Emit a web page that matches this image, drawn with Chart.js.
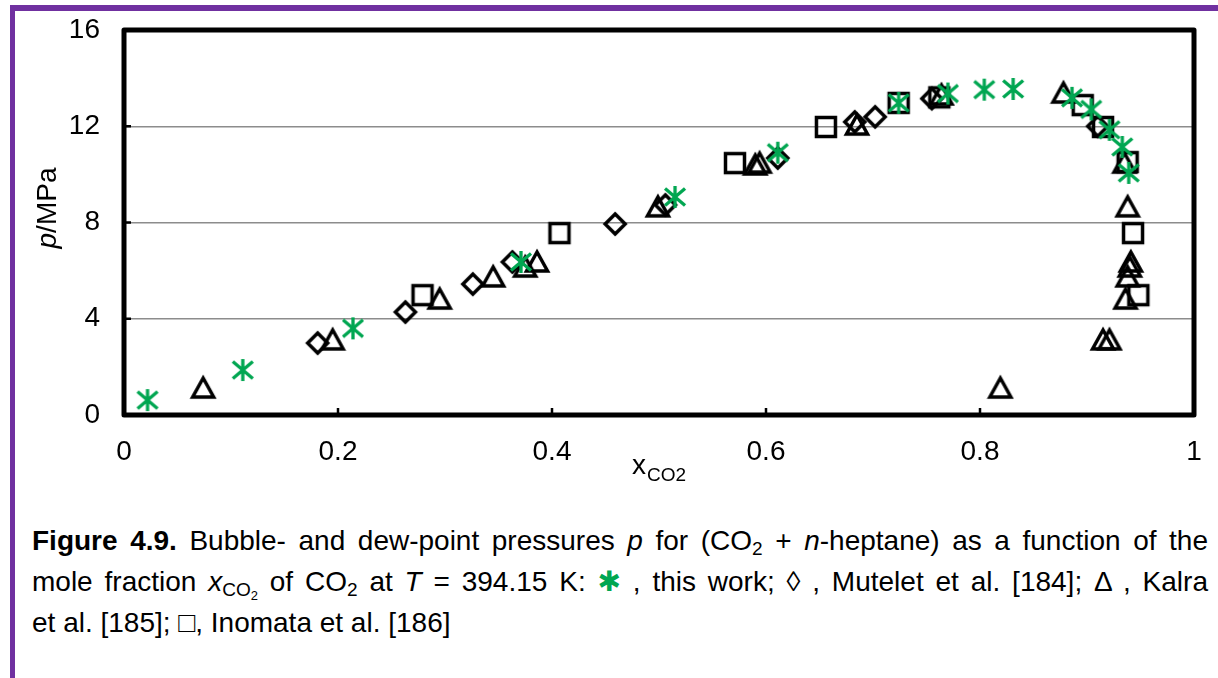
<!DOCTYPE html>
<html>
<head>
<meta charset="utf-8">
<script src="https://cdn.jsdelivr.net/npm/chart.js@4.4.1/dist/chart.umd.min.js"></script>
<style>
    body { margin: 0; background: #fff; width: 1218px; height: 678px; overflow: hidden; position: relative;
           font-family: 'Liberation Sans', Arial, sans-serif; }
    #frameTop { position: absolute; left: 10px; top: 5px; width: 1208px; height: 6px; background: #7030a0; }
    #frameLeft { position: absolute; left: 10px; top: 5px; width: 5px; height: 673px; background: #7030a0; }
    #wrap { position: absolute; left: 0; top: 0; width: 1218px; height: 500px; }
    #caption { position: absolute; left: 32px; top: 520px; width: 1176px; font-size: 28px; line-height: 41px; color: #000; }
    #caption div { text-align: justify; text-align-last: justify; }
    #caption div.last { text-align: left; text-align-last: left; }
    sub { font-size: 0.68em; vertical-align: -0.28em; line-height: 0; }
    .star { color: #00a651; font-family: 'DejaVu Sans', sans-serif; }
</style>
</head>
<body>
<div id="frameTop"></div>
<div id="frameLeft"></div>
<div id="wrap"><canvas id="vleChart" width="1218" height="500"></canvas></div>
<div id="caption">
    <div><b>Figure 4.9.</b> Bubble- and dew-point pressures <i>p</i> for (CO<sub>2</sub> + <i>n</i>-heptane) as a function of the</div>
    <div>mole fraction <i>x</i><sub>CO<sub>2</sub></sub> of CO<sub>2</sub> at <i>T</i> = 394.15 K: <span class="star">&#x2731;</span> , this work; &#x25CA; , Mutelet et al. [184]; &#x0394; , Kalra</div>
    <div class="last">et al. [185]; &#x25A1;, Inomata et al. [186]</div>
</div>
<script>
// axis ticks
const xTicks = [0, 0.2, 0.4, 0.6, 0.8, 1];
const yTicks = [0, 4, 8, 12, 16];

// this work (asterisks)
const workX = [0.022, 0.111, 0.214, 0.371, 0.515, 0.611, 0.724, 0.770, 0.804, 0.831, 0.886, 0.904, 0.921, 0.933, 0.939];
const workP = [0.62, 1.87, 3.60, 6.36, 9.06, 10.90, 12.97, 13.36, 13.52, 13.55, 13.18, 12.70, 11.85, 11.14, 10.06];

// Mutelet et al. (diamonds)
const muteletX = [0.181, 0.263, 0.326, 0.363, 0.459, 0.506, 0.611, 0.683, 0.702, 0.755, 0.910];
const muteletP = [2.99, 4.28, 5.44, 6.36, 7.94, 8.73, 10.68, 12.18, 12.39, 13.15, 12.00];

// Kalra et al. (triangles)
const kalraX = [0.074, 0.195, 0.295, 0.345, 0.375, 0.386, 0.499, 0.590, 0.594, 0.685, 0.764, 0.878,
                0.935, 0.938, 0.941, 0.940, 0.938, 0.936, 0.915, 0.921, 0.819];
const kalraP = [1.12, 3.12, 4.82, 5.74, 6.15, 6.36, 8.65, 10.39, 10.47, 12.05, 13.30, 13.38,
                10.47, 8.65, 6.36, 6.15, 5.74, 4.82, 3.12, 3.12, 1.12];

// Inomata et al. (squares)
const inomataX = [0.279, 0.407, 0.571, 0.656, 0.724, 0.762, 0.896, 0.915, 0.938, 0.943, 0.948];
const inomataP = [4.98, 7.56, 10.47, 11.97, 12.97, 13.20, 12.88, 11.97, 10.51, 7.56, 4.98];

const toPoints = (xs, ys) => xs.map((x, i) => ({ x: x, y: ys[i] }));

// hollow marker glyphs drawn once onto small canvases
function makeMarker(kind) {
    const c = document.createElement('canvas');
    c.width = 28; c.height = 28;
    const g = c.getContext('2d');
    g.translate(14, 14);
    g.lineWidth = 3.5;
    g.strokeStyle = '#000';
    g.lineJoin = 'miter';
    g.beginPath();
    if (kind === 'square') {
        g.rect(-9.5, -9.5, 19, 19);
    } else if (kind === 'diamond') {
        g.moveTo(0, -10); g.lineTo(10, 0); g.lineTo(0, 10); g.lineTo(-10, 0); g.closePath();
    } else if (kind === 'triangle') {
        g.moveTo(0, -10); g.lineTo(10.5, 9); g.lineTo(-10.5, 9); g.closePath();
    } else if (kind === 'asterisk') {
        g.strokeStyle = '#00a651';
        g.lineWidth = 3.3;
        g.moveTo(0, -11); g.lineTo(0, 11);
        g.moveTo(-10, -8.5); g.lineTo(10, 8.5);
        g.moveTo(-10, 8.5); g.lineTo(10, -8.5);
    }
    g.stroke();
    return c;
}

// frame, inward tick marks and axis titles
const framePlugin = {
    id: 'frame',
    afterDraw(chart) {
        const ctx = chart.ctx;
        const a = chart.chartArea;
        const xs = chart.scales.x, ys = chart.scales.y;
        ctx.save();
        ctx.strokeStyle = '#000';
        ctx.lineWidth = 2.5;
        ctx.beginPath();
        yTicks.forEach(v => {
            const py = ys.getPixelForValue(v);
            ctx.moveTo(a.left, py); ctx.lineTo(a.left + 7, py);
        });
        xTicks.forEach(v => {
            const px = xs.getPixelForValue(v);
            ctx.moveTo(px, a.bottom); ctx.lineTo(px, a.bottom - 7);
        });
        ctx.stroke();

        ctx.lineWidth = 5;
        ctx.lineJoin = 'round';
        ctx.strokeRect(a.left, a.top, a.right - a.left, a.bottom - a.top);

        ctx.fillStyle = '#000';
        ctx.textBaseline = 'alphabetic';
        ctx.font = '28px "Liberation Sans", Arial';
        ctx.fillText('x', 632, 474);
        const wx = ctx.measureText('x').width;
        ctx.font = '19px "Liberation Sans", Arial';
        ctx.fillText('CO2', 632 + wx + 1, 481);

        ctx.translate(56, 208);
        ctx.rotate(-Math.PI / 2);
        ctx.font = 'italic 28px "Liberation Sans", Arial';
        const wp = ctx.measureText('p').width;
        ctx.font = '28px "Liberation Sans", Arial';
        const wr = ctx.measureText('/MPa').width;
        const x0 = -(wp + wr) / 2;
        ctx.font = 'italic 28px "Liberation Sans", Arial';
        ctx.fillText('p', x0, 0);
        ctx.font = '28px "Liberation Sans", Arial';
        ctx.fillText('/MPa', x0 + wp, 0);
        ctx.restore();
    }
};

const ctx = document.getElementById('vleChart').getContext('2d');
const vleChart = new Chart(ctx, {
    type: 'scatter',
    data: {
        datasets: [
            { label: 'this work', data: toPoints(workX, workP), pointStyle: makeMarker('asterisk'), pointRadius: 10, order: 0 },
            { label: 'Mutelet et al.', data: toPoints(muteletX, muteletP), pointStyle: makeMarker('diamond'), pointRadius: 10, order: 1 },
            { label: 'Kalra et al.', data: toPoints(kalraX, kalraP), pointStyle: makeMarker('triangle'), pointRadius: 10, order: 2 },
            { label: 'Inomata et al.', data: toPoints(inomataX, inomataP), pointStyle: makeMarker('square'), pointRadius: 10, order: 3 }
        ]
    },
    options: {
        responsive: false,
        animation: false,
        layout: { padding: { top: 30, right: 24, left: 0, bottom: 0 } },
        plugins: {
            legend: { display: false },
            tooltip: { enabled: false }
        },
        scales: {
            x: {
                type: 'linear',
                min: 0,
                max: 1,
                afterBuildTicks: s => { s.ticks = xTicks.map(v => ({ value: v })); },
                afterFit: s => { s.height = 85; s.paddingLeft = 0; s.paddingRight = 0; },
                grid: { display: false, drawTicks: false },
                border: { display: false },
                ticks: {
                    color: '#000', font: { size: 28, family: '"Liberation Sans", Arial' }, padding: 20, maxRotation: 0,
                    callback: v => String(v)
                }
            },
            y: {
                min: 0,
                max: 16,
                afterBuildTicks: s => { s.ticks = yTicks.map(v => ({ value: v })); },
                afterFit: s => { s.width = 124; s.paddingTop = 0; s.paddingBottom = 0; },
                grid: { color: '#8c8c8c', lineWidth: 1.5, drawTicks: false },
                border: { display: false },
                ticks: { color: '#000', font: { size: 28, family: '"Liberation Sans", Arial' }, padding: 24 }
            }
        }
    },
    plugins: [framePlugin]
});
</script>
</body>
</html>
